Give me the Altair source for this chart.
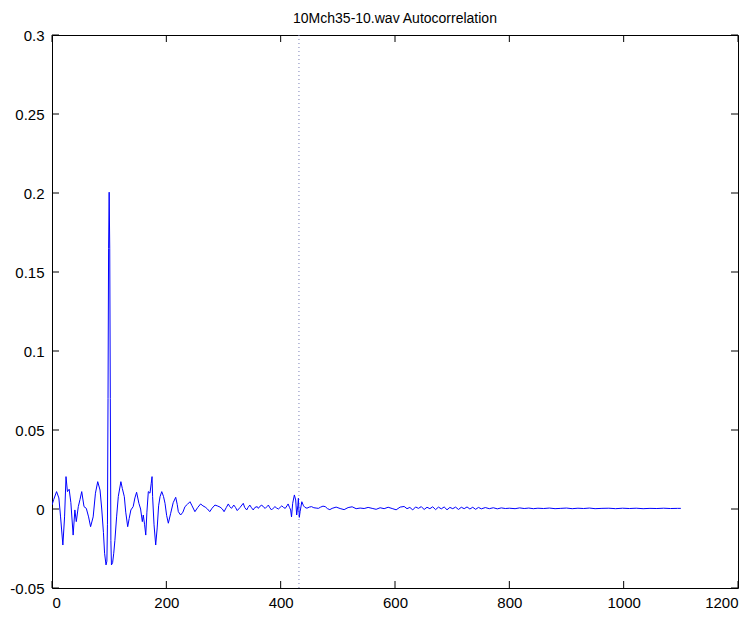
import altair as alt
import pandas as pd

# ---- data ----
LAGS = [0, 3, 8, 12, 15, 19, 22, 24.5, 27, 30, 33, 37, 40, 42.5, 46, 49, 52, 56, 60, 64,
        67.5, 72, 76, 80, 84, 87, 90, 92, 94.5, 96, 97, 98, 99, 100, 101, 102, 103, 104, 106, 108,
        110, 113, 116, 120.5, 123, 126.5, 129, 132.4, 135, 138, 142, 145, 148, 152, 155, 158, 159.7, 162, 164, 166,
        168.5, 171.4, 173.5, 175, 176, 178.5, 181.4, 184, 186.5, 189, 192, 195, 197.7, 200.5, 203.5, 207.6, 212, 216.4, 219, 221,
        225, 229, 232.6, 237, 241.4, 245, 250, 255, 260, 264, 268, 272, 276, 280, 285, 289, 294, 298, 301, 305,
        308.4, 311, 314, 318, 321, 324, 329, 334.6, 337, 340.6, 343, 346, 349, 352, 355, 359, 361, 364, 367, 370,
        373, 376, 378.5, 381, 384, 387, 390, 393, 396, 399, 402, 405, 408, 411, 413, 415.5, 417.5, 419, 421, 424,
        426.3, 428, 430, 431, 432.6, 434, 437, 440, 442.5, 446, 450, 454, 458, 462, 466, 470, 474, 478, 482, 486,
        490, 497, 504, 511, 518, 525, 532, 539, 546, 553, 560, 567, 574, 581, 588, 595, 602, 609, 616, 621,
        626, 631, 636, 641, 646, 651, 656, 661, 666, 671, 676, 681, 686, 691, 696, 701, 706, 711, 716, 721,
        726, 731, 736, 741, 746, 751, 758, 765, 772, 779, 786, 793, 800, 810, 818, 826, 834, 842, 850, 860,
        870, 880, 890, 900, 910, 920, 930, 940, 950, 962, 974, 986, 998, 1010, 1022, 1034, 1046, 1058, 1070, 1082,
        1094, 1100]

ACF = [0.0025, 0.006, 0.011, 0.007, -0.005, -0.0228, -0.005, 0.0205, 0.011, 0.0125, 0.004, -0.0165, -0.0006, -0.008, 0.0015, 0.006, 0.011, 0.0015, 0.0004, -0.005,
       -0.0112, -0.005, 0.01, 0.0173, 0.012, 0.0, -0.015, -0.028, -0.0354, -0.033, -0.01, 0.07, 0.165, 0.2005, 0.165, 0.07, -0.02, -0.0354, -0.034, -0.028,
       -0.02, -0.005, 0.008, 0.0173, 0.013, 0.0078, -0.002, -0.0112, -0.006, -0.0006, 0.0015, 0.007, 0.0106, 0.0036, 0.0, -0.008, -0.0038, -0.01, -0.0165, -0.002,
       0.011, 0.01, 0.016, 0.0205, 0.0078, -0.01, -0.0228, -0.012, 0.002, 0.0078, 0.011, 0.008, 0.0036, -0.004, -0.009, -0.0027, 0.004, 0.0074, 0.003, -0.0017,
       -0.0038, -0.002, 0.0015, 0.003, 0.0046, 0.002, -0.0017, 0.001, 0.0032, 0.002, 0.0012, 0.0, -0.0017, 0.0005, 0.0025, 0.002, 0.0012, 0.0, -0.0017, 0.001,
       0.0032, 0.0015, 0.0004, 0.0025, 0.001, -0.001, 0.001, 0.0036, 0.001, -0.0006, 0.001, 0.0025, 0.0008, -0.0006, 0.001, 0.0015, 0.0004, 0.0018, 0.0025, 0.0012,
       0.0004, 0.0015, 0.0025, 0.0008, -0.0006, 0.0005, 0.0015, 0.0006, 0.0, 0.001, 0.002, 0.001, 0.0004, 0.002, 0.0032, 0.001, -0.0006, -0.005, 0.0036, 0.0089,
       0.0057, -0.0038, 0.002, 0.0068, -0.0053, -0.0017, 0.0046, 0.002, 0.001, 0.0005, 0.0012, 0.0015, 0.0008, 0.0006, 0.0004, 0.0012, 0.0018, 0.0015, 0.0002, -0.0004,
       0.0004, 0.0012, 0.0003, -0.0004, 0.0009, 0.0014, 0.0002, 0.0006, 0.0003, 0.0010, 0.0004, -0.0002, 0.0008, 0.0002, 0.0011, 0.0003, -0.0005, 0.0012, 0.0016, 0.0002,
       0.0010, -0.0006, 0.0013, 0.0004, 0.0015, -0.0003, 0.0011, 0.0002, 0.0014, -0.0004, 0.0012, 0.0001, 0.0013, -0.0005, 0.0010, 0.0002, 0.0012, -0.0003, 0.0011, 0.0002,
       0.0013, 0.0000, 0.0011, -0.0002, 0.0010, 0.0001, 0.0009, 0.0002, 0.0008, 0.0001, 0.0007, 0.0003, 0.0005, 0.0002, 0.0007, 0.0003, 0.0006, 0.0002, 0.0005, 0.0003,
       0.0006, 0.0002, 0.0004, 0.0006, 0.0002, 0.0005, 0.0003, 0.0006, 0.0002, 0.0004, 0.0005, 0.0002, 0.0005, 0.0003, 0.0005, 0.0002, 0.0004, 0.0003, 0.0005, 0.0003,
       0.0004, 0.0004]

X_TICKS = [0, 200, 400, 600, 800, 1000, 1200]
Y_TICKS = [-0.05, 0, 0.05, 0.1, 0.15, 0.2, 0.25, 0.3]
MARKER_LAG = [432]
TITLE = "10Mch35-10.wav Autocorrelation"

W, H = 686, 553
TICK_LEN = 7
FONT = "Liberation Sans"

df = pd.DataFrame({"lag": LAGS, "acf": ACF})
xs = alt.Scale(domain=[0, 1200], nice=False, zero=False)
ys = alt.Scale(domain=[-0.05, 0.3], nice=False, zero=False)
x_axis = alt.Axis(values=X_TICKS, format="d", labelPadding=7, title=None)
y_axis = alt.Axis(values=Y_TICKS, labelExpr="'' + datum.value", labelPadding=8, title=None)

line = alt.Chart(df).mark_line(color="#0000ff", strokeWidth=1, clip=True).encode(
    x=alt.X("lag:Q", scale=xs, axis=x_axis),
    y=alt.Y("acf:Q", scale=ys, axis=y_axis),
)

marker = alt.Chart(pd.DataFrame({"lag": MARKER_LAG})).mark_rule(
    color="#7a7fb8", strokeDash=[1, 3], strokeWidth=1
).encode(x=alt.X("lag:Q", scale=xs, axis=x_axis))

xt = pd.DataFrame({"lag": X_TICKS})
yt = pd.DataFrame({"acf": Y_TICKS})
tick_x_bottom = alt.Chart(xt).mark_rule(color="black").encode(
    x=alt.X("lag:Q", scale=xs, axis=x_axis), y=alt.value(H), y2=alt.value(H - TICK_LEN))
tick_x_top = alt.Chart(xt).mark_rule(color="black").encode(
    x=alt.X("lag:Q", scale=xs, axis=x_axis), y=alt.value(0), y2=alt.value(TICK_LEN))
tick_y_left = alt.Chart(yt).mark_rule(color="black").encode(
    y=alt.Y("acf:Q", scale=ys, axis=y_axis), x=alt.value(0), x2=alt.value(TICK_LEN))
tick_y_right = alt.Chart(yt).mark_rule(color="black").encode(
    y=alt.Y("acf:Q", scale=ys, axis=y_axis), x=alt.value(W), x2=alt.value(W - TICK_LEN))

chart = alt.layer(marker, line, tick_x_bottom, tick_x_top, tick_y_left, tick_y_right).properties(
    width=W, height=H,
    title=alt.TitleParams(TITLE, anchor="middle"),
    padding={"left": 44, "top": 27, "right": 10, "bottom": 21},
    autosize=alt.AutoSizeParams(type="none"),
).configure_view(stroke="black", strokeWidth=1).configure_axis(
    grid=False, domain=False, ticks=False, labelFont=FONT, labelFontSize=15,
    labelColor="black",
).configure_title(font=FONT, fontSize=14, fontWeight="normal", color="black", offset=2)

chart.save("out.html", embed_options={"renderer": "svg", "actions": False})
